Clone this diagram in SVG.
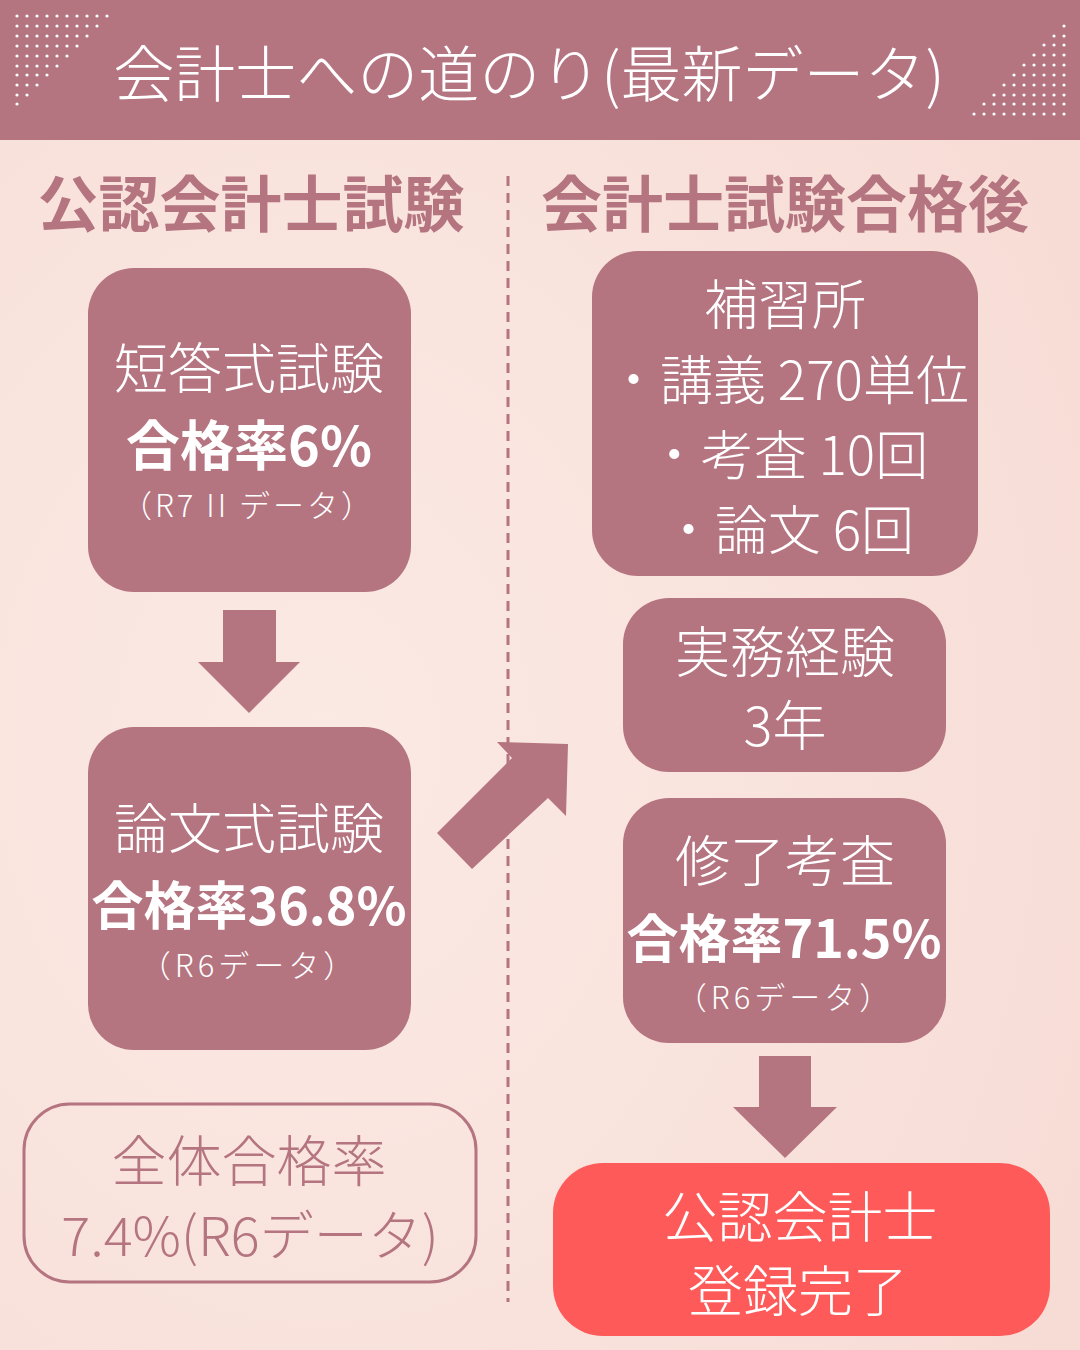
<svg xmlns="http://www.w3.org/2000/svg" width="1080" height="1350" viewBox="0 0 1080 1350">
<defs>
<radialGradient id="bg" cx="0.3" cy="0.55" r="0.8">
<stop offset="0" stop-color="#fbe9e4"/>
<stop offset="0.6" stop-color="#f9e2dc"/>
<stop offset="1" stop-color="#f7dcd5"/>
</radialGradient>
<style>
.t{font-family:"Noto Sans CJK JP","Noto Sans",sans-serif;text-anchor:middle}
.w{fill:#ffffff}
.m{fill:#b47480}
.box{fill:#b47480}
.arr{fill:#b47480}
.dot{fill:#ffffff}
</style>
</defs>
<rect x="0" y="0" width="1080" height="1350" fill="url(#bg)"/>
<g id="header">
<rect x="0" y="0" width="1080" height="140" fill="#b47480"/>
<g id="dots-left" class="dot">
<circle cx="17" cy="16" r="1.6"/><circle cx="27" cy="16" r="1.6"/><circle cx="37" cy="16" r="1.6"/><circle cx="47" cy="16" r="1.6"/><circle cx="57" cy="16" r="1.6"/><circle cx="67" cy="16" r="1.6"/><circle cx="77" cy="16" r="1.6"/><circle cx="87" cy="16" r="1.6"/><circle cx="97" cy="16" r="1.6"/><circle cx="107" cy="16" r="1.6"/>
<circle cx="17" cy="26" r="1.6"/><circle cx="27" cy="26" r="1.6"/><circle cx="37" cy="26" r="1.6"/><circle cx="47" cy="26" r="1.6"/><circle cx="57" cy="26" r="1.6"/><circle cx="67" cy="26" r="1.6"/><circle cx="77" cy="26" r="1.6"/><circle cx="87" cy="26" r="1.6"/><circle cx="97" cy="26" r="1.6"/>
<circle cx="17" cy="36" r="1.6"/><circle cx="27" cy="36" r="1.6"/><circle cx="37" cy="36" r="1.6"/><circle cx="47" cy="36" r="1.6"/><circle cx="57" cy="36" r="1.6"/><circle cx="67" cy="36" r="1.6"/><circle cx="77" cy="36" r="1.6"/><circle cx="87" cy="36" r="1.6"/>
<circle cx="17" cy="46" r="1.6"/><circle cx="27" cy="46" r="1.6"/><circle cx="37" cy="46" r="1.6"/><circle cx="47" cy="46" r="1.6"/><circle cx="57" cy="46" r="1.6"/><circle cx="67" cy="46" r="1.6"/><circle cx="77" cy="46" r="1.6"/>
<circle cx="17" cy="56" r="1.6"/><circle cx="27" cy="56" r="1.6"/><circle cx="37" cy="56" r="1.6"/><circle cx="47" cy="56" r="1.6"/><circle cx="57" cy="56" r="1.6"/><circle cx="67" cy="56" r="1.6"/>
<circle cx="17" cy="66" r="1.6"/><circle cx="27" cy="66" r="1.6"/><circle cx="37" cy="66" r="1.6"/><circle cx="47" cy="66" r="1.6"/><circle cx="57" cy="66" r="1.6"/>
<circle cx="17" cy="75" r="1.6"/><circle cx="27" cy="75" r="1.6"/><circle cx="37" cy="75" r="1.6"/><circle cx="47" cy="75" r="1.6"/>
<circle cx="17" cy="85" r="1.6"/><circle cx="27" cy="85" r="1.6"/><circle cx="37" cy="85" r="1.6"/>
<circle cx="17" cy="95" r="1.6"/><circle cx="27" cy="95" r="1.6"/>
<circle cx="17" cy="104" r="1.6"/>
</g>
<g id="dots-right" class="dot">
<circle cx="1064" cy="26" r="1.6"/>
<circle cx="1054" cy="36" r="1.6"/><circle cx="1064" cy="36" r="1.6"/>
<circle cx="1044" cy="45" r="1.6"/><circle cx="1054" cy="45" r="1.6"/><circle cx="1064" cy="45" r="1.6"/>
<circle cx="1034" cy="55" r="1.6"/><circle cx="1044" cy="55" r="1.6"/><circle cx="1054" cy="55" r="1.6"/><circle cx="1064" cy="55" r="1.6"/>
<circle cx="1024" cy="65" r="1.6"/><circle cx="1034" cy="65" r="1.6"/><circle cx="1044" cy="65" r="1.6"/><circle cx="1054" cy="65" r="1.6"/><circle cx="1064" cy="65" r="1.6"/>
<circle cx="1014" cy="75" r="1.6"/><circle cx="1024" cy="75" r="1.6"/><circle cx="1034" cy="75" r="1.6"/><circle cx="1044" cy="75" r="1.6"/><circle cx="1054" cy="75" r="1.6"/><circle cx="1064" cy="75" r="1.6"/>
<circle cx="1004" cy="85" r="1.6"/><circle cx="1014" cy="85" r="1.6"/><circle cx="1024" cy="85" r="1.6"/><circle cx="1034" cy="85" r="1.6"/><circle cx="1044" cy="85" r="1.6"/><circle cx="1054" cy="85" r="1.6"/><circle cx="1064" cy="85" r="1.6"/>
<circle cx="994" cy="95" r="1.6"/><circle cx="1004" cy="95" r="1.6"/><circle cx="1014" cy="95" r="1.6"/><circle cx="1024" cy="95" r="1.6"/><circle cx="1034" cy="95" r="1.6"/><circle cx="1044" cy="95" r="1.6"/><circle cx="1054" cy="95" r="1.6"/><circle cx="1064" cy="95" r="1.6"/>
<circle cx="984" cy="104" r="1.6"/><circle cx="994" cy="104" r="1.6"/><circle cx="1004" cy="104" r="1.6"/><circle cx="1014" cy="104" r="1.6"/><circle cx="1024" cy="104" r="1.6"/><circle cx="1034" cy="104" r="1.6"/><circle cx="1044" cy="104" r="1.6"/><circle cx="1054" cy="104" r="1.6"/><circle cx="1064" cy="104" r="1.6"/>
<circle cx="974" cy="114" r="1.6"/><circle cx="984" cy="114" r="1.6"/><circle cx="994" cy="114" r="1.6"/><circle cx="1004" cy="114" r="1.6"/><circle cx="1014" cy="114" r="1.6"/><circle cx="1024" cy="114" r="1.6"/><circle cx="1034" cy="114" r="1.6"/><circle cx="1044" cy="114" r="1.6"/><circle cx="1054" cy="114" r="1.6"/><circle cx="1064" cy="114" r="1.6"/>
</g>
<text class="t w" x="529" y="97" font-size="61" font-weight="300">会計士への道のり(最新データ)</text>
</g>
<g id="headings">
<text class="t m" x="251" y="227" font-size="61" font-weight="700">公認会計士試験</text>
<text class="t m" x="785" y="227" font-size="61" font-weight="700">会計士試験合格後</text>
</g>
<g id="connectors">
<line x1="508" y1="176" x2="508" y2="1302" stroke="#b47480" stroke-width="3" stroke-dasharray="10 7"/>
<polygon class="arr" points="223,610 276,610 276,662 300,662 249,713 198,662 223,662"/>
<polygon class="arr" points="437,833 512,758 497,742 568,744 566,816 548,798 472,869"/>
<polygon class="arr" points="759,1056 811,1056 811,1107 837,1107 785,1158 733,1107 759,1107"/>
</g>
<g id="node-tanto">
<rect class="box" x="88" y="268" width="323" height="324" rx="46"/>
<text class="t w" x="249" y="389" font-size="54" font-weight="300">短答式試験</text>
<text class="t w" x="249" y="466" font-size="54" font-weight="700">合格率6%</text>
<text class="t w" x="248" y="517" font-size="31" font-weight="300" letter-spacing="3">（R7 II データ）</text>
</g>
<g id="node-ronbun">
<rect class="box" x="88" y="727" width="323" height="323" rx="46"/>
<text class="t w" x="249" y="849" font-size="54" font-weight="300">論文式試験</text>
<text class="t w" x="249" y="925" font-size="52" font-weight="700" letter-spacing="0">合格率36.8%</text>
<text class="t w" x="249" y="977" font-size="31" font-weight="300" letter-spacing="4">（R6データ）</text>
</g>
<g id="node-zentai">
<rect x="24" y="1104" width="452" height="178" rx="46" fill="none" stroke="#b47480" stroke-width="3"/>
<text class="t m" x="249" y="1181" font-size="55" font-weight="300">全体合格率</text>
<text class="t m" x="250" y="1256" font-size="54" font-weight="300">7.4%(R6データ)</text>
</g>
<g id="node-hoshujo">
<rect class="box" x="592" y="251" width="386" height="325" rx="46"/>
<text class="t w" x="785" y="325" font-size="54" font-weight="300">補習所</text>
<text class="t w" x="788" y="400" font-size="53" font-weight="300">・講義 270単位</text>
<text class="t w" x="788" y="475" font-size="53" font-weight="300">・考査 10回</text>
<text class="t w" x="788" y="550" font-size="53" font-weight="300">・論文 6回</text>
</g>
<g id="node-jitsumu">
<rect class="box" x="623" y="598" width="323" height="174" rx="46"/>
<text class="t w" x="785" y="672" font-size="55" font-weight="300">実務経験</text>
<text class="t w" x="785" y="746" font-size="54" font-weight="300">3年</text>
</g>
<g id="node-shuryo">
<rect class="box" x="623" y="798" width="323" height="245" rx="46"/>
<text class="t w" x="785" y="881" font-size="55" font-weight="300">修了考査</text>
<text class="t w" x="784" y="958" font-size="52" font-weight="700" letter-spacing="0">合格率71.5%</text>
<text class="t w" x="785" y="1009" font-size="31" font-weight="300" letter-spacing="4">（R6データ）</text>
</g>
<g id="node-toroku">
<rect x="553" y="1163" width="497" height="173" rx="50" fill="#ff5a5a"/>
<text class="t w" x="800" y="1237" font-size="55" font-weight="300">公認会計士</text>
<text class="t w" x="798" y="1311" font-size="55" font-weight="300">登録完了</text>
</g>
</svg>
